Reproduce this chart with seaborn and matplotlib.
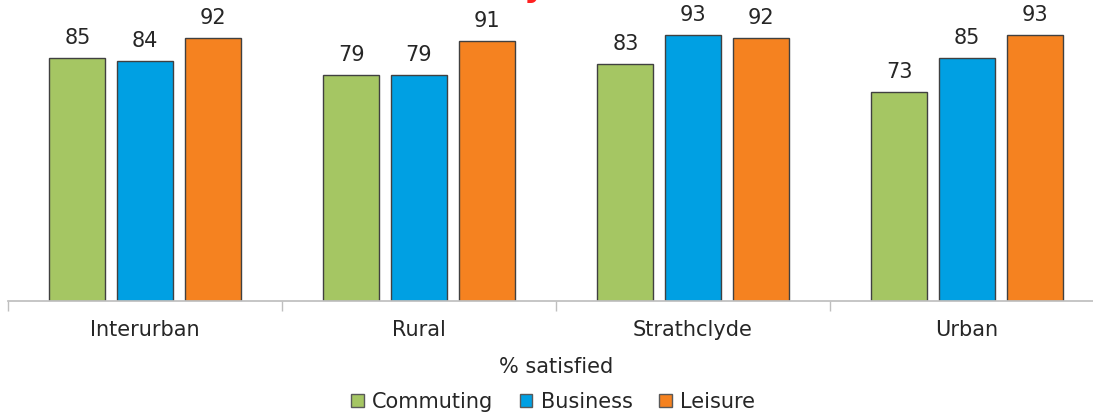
import numpy as np
import pandas as pd
import matplotlib.pyplot as plt
import seaborn as sns

areas = ['Interurban', 'Rural', 'Strathclyde', 'Urban']
purposes = ['Commuting', 'Business', 'Leisure']
commuting = [85, 79, 83, 73]
business = [84, 79, 93, 85]
leisure = [92, 91, 92, 93]

df = pd.DataFrame({
    'area': areas * 3,
    'purpose': [p for p in purposes for _ in areas],
    'value': commuting + business + leisure,
})

colors = ['#A5C663', '#00A0E3', '#F58220']

sns.set_theme(style='white')
plt.rcParams['font.family'] = ['DejaVu Sans']

fig = plt.figure(figsize=(10.93, 4.16), dpi=100)
ax = fig.add_axes([8 / 1093, 115 / 416, 1096 / 1093, 301 / 416])

sns.barplot(data=df, x='area', y='value', hue='purpose', order=areas,
            hue_order=purposes, palette=colors, width=0.74, gap=0.17,
            edgecolor='#404040', linewidth=1, saturation=1, ax=ax)

for c in ax.containers:
    ax.bar_label(c, padding=7, fontsize=15, color='#262626')

ax.set_xlim(-0.5, 3.5)
ax.set_ylim(0, 105.2)
ax.set_yticks([])
ax.set_ylabel('')
ax.set_xlabel('% satisfied', fontsize=15, color='#262626', labelpad=12)
for s in ['left', 'right', 'top']:
    ax.spines[s].set_visible(False)
ax.spines['bottom'].set_color('#BFBFBF')
ax.tick_params(axis='x', which='major', length=0, labelsize=15,
               labelcolor='#262626', pad=14)
ax.set_xticks(np.arange(-0.5, 4, 1), minor=True)
ax.tick_params(axis='x', which='minor', length=7, color='#BFBFBF',
               width=1, bottom=True, direction='out')

ax.legend(loc='center', bbox_to_anchor=(545 / 1096, -101 / 301), ncol=3,
          frameon=False, fontsize=15, handlelength=0.62, handleheight=0.62,
          handletextpad=0.4, columnspacing=1.25, labelcolor='#262626',
          borderpad=0)
for h in ax.get_legend().legend_handles:
    h.set_edgecolor('#595959')

fig.text(534 / 1093, 1.0 + 4 / 416, 'y', color='#FF2020', fontsize=24,
         fontweight='bold', ha='center', va='baseline')

fig.savefig('out.png', dpi=100)
